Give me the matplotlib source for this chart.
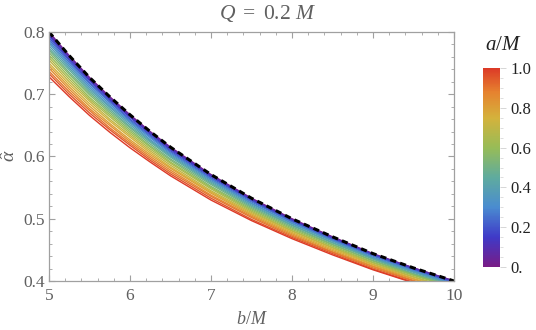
import matplotlib
matplotlib.use('Agg')
import matplotlib.pyplot as plt
from matplotlib.colors import LinearSegmentedColormap, Normalize
from matplotlib.cm import ScalarMappable
from matplotlib.ticker import MultipleLocator, FuncFormatter

# impact parameter b/M
b_vals = [5.0, 5.25, 5.5, 5.75, 6.0, 6.25, 6.5, 7.0, 7.5, 8.0, 8.5, 9.0, 9.5, 10.0]

# spin a/M of each curve
spin_vals = [0.00, 0.05, 0.10, 0.15, 0.20, 0.25, 0.30, 0.35, 0.40, 0.45, 0.50,
             0.55, 0.60, 0.65, 0.70, 0.75, 0.80, 0.85, 0.90, 0.95, 1.00]

# deflection angle, one row per spin value
alpha_rows = [
    [0.800, 0.762, 0.727, 0.696, 0.667, 0.640, 0.615, 0.571, 0.533, 0.500, 0.471, 0.444, 0.421, 0.400],
    [0.799, 0.761, 0.726, 0.695, 0.666, 0.639, 0.614, 0.570, 0.532, 0.499, 0.470, 0.443, 0.421, 0.400],
    [0.796, 0.759, 0.724, 0.693, 0.664, 0.638, 0.613, 0.569, 0.531, 0.498, 0.469, 0.443, 0.420, 0.399],
    [0.794, 0.756, 0.722, 0.691, 0.663, 0.636, 0.611, 0.568, 0.530, 0.497, 0.469, 0.442, 0.419, 0.398],
    [0.791, 0.754, 0.719, 0.689, 0.660, 0.634, 0.609, 0.566, 0.529, 0.496, 0.467, 0.441, 0.418, 0.397],
    [0.788, 0.751, 0.717, 0.687, 0.658, 0.632, 0.607, 0.564, 0.527, 0.495, 0.466, 0.440, 0.417, 0.396],
    [0.785, 0.748, 0.714, 0.684, 0.656, 0.630, 0.605, 0.563, 0.525, 0.493, 0.465, 0.438, 0.416, 0.395],
    [0.782, 0.745, 0.711, 0.681, 0.654, 0.627, 0.603, 0.561, 0.524, 0.492, 0.464, 0.437, 0.415, 0.394],
    [0.778, 0.742, 0.708, 0.679, 0.651, 0.625, 0.601, 0.559, 0.522, 0.490, 0.462, 0.436, 0.414, 0.393],
    [0.774, 0.739, 0.705, 0.676, 0.648, 0.623, 0.599, 0.557, 0.520, 0.489, 0.461, 0.435, 0.412, 0.392],
    [0.771, 0.735, 0.702, 0.673, 0.646, 0.620, 0.596, 0.555, 0.518, 0.487, 0.459, 0.433, 0.411, 0.391],
    [0.767, 0.732, 0.699, 0.670, 0.643, 0.617, 0.594, 0.552, 0.516, 0.485, 0.458, 0.432, 0.410, 0.390],
    [0.763, 0.728, 0.695, 0.667, 0.640, 0.615, 0.591, 0.550, 0.514, 0.483, 0.456, 0.430, 0.409, 0.389],
    [0.759, 0.724, 0.692, 0.664, 0.637, 0.612, 0.589, 0.548, 0.512, 0.481, 0.454, 0.429, 0.407, 0.387],
    [0.755, 0.720, 0.689, 0.660, 0.634, 0.609, 0.586, 0.545, 0.510, 0.480, 0.453, 0.427, 0.406, 0.386],
    [0.750, 0.716, 0.685, 0.657, 0.631, 0.606, 0.583, 0.543, 0.508, 0.478, 0.451, 0.426, 0.404, 0.385],
    [0.746, 0.712, 0.681, 0.653, 0.627, 0.603, 0.581, 0.541, 0.506, 0.476, 0.449, 0.424, 0.403, 0.383],
    [0.742, 0.708, 0.677, 0.650, 0.624, 0.600, 0.578, 0.538, 0.504, 0.474, 0.447, 0.423, 0.401, 0.382],
    [0.737, 0.704, 0.674, 0.646, 0.621, 0.597, 0.575, 0.536, 0.502, 0.472, 0.446, 0.421, 0.400, 0.381],
    [0.733, 0.700, 0.670, 0.643, 0.618, 0.594, 0.572, 0.533, 0.499, 0.470, 0.444, 0.419, 0.398, 0.379],
    [0.728, 0.696, 0.666, 0.639, 0.614, 0.591, 0.569, 0.530, 0.497, 0.468, 0.442, 0.418, 0.397, 0.378],
]

# dashed reference curve
ref_alpha = [0.800, 0.762, 0.727, 0.696, 0.667, 0.640, 0.615, 0.571, 0.533, 0.500, 0.471, 0.444, 0.421, 0.400]

cb_ticks = [0.0, 0.2, 0.4, 0.6, 0.8, 1.0]

plt.rcParams['font.family'] = 'Liberation Serif'
plt.rcParams['mathtext.fontset'] = 'custom'
plt.rcParams['mathtext.rm'] = 'Liberation Serif'
plt.rcParams['mathtext.it'] = 'Liberation Serif:italic'

rainbow = LinearSegmentedColormap.from_list('mma_rainbow', [
    (0.00, '#781C86'), (0.15, '#3F3AC8'), (0.30, '#4A8CD0'),
    (0.45, '#5FAB9E'), (0.60, '#97BC57'), (0.75, '#D4B23C'),
    (0.88, '#E6822F'), (1.00, '#DC3A27')])
norm = Normalize(0, 1)

grey_txt = '#606060'
grey_ax = '#a0a0a0'

fig = plt.figure(figsize=(5.36, 3.30), dpi=100)
ax = fig.add_axes([49 / 536, 1 - 281 / 330, 405 / 536, 249 / 330])

for a, row in zip(spin_vals, alpha_rows):
    ax.plot(b_vals, row, color=rainbow(norm(a)), lw=1.0)
ax.plot(b_vals, ref_alpha, color='black', lw=2.2, dashes=(2.0, 1.4))

ax.set_xlim(5, 10)
ax.set_ylim(0.4, 0.8)
ax.xaxis.set_major_locator(MultipleLocator(1))
ax.xaxis.set_minor_locator(MultipleLocator(0.2))
ax.yaxis.set_major_locator(MultipleLocator(0.1))
ax.yaxis.set_minor_locator(MultipleLocator(0.02))
ax.yaxis.set_major_formatter(FuncFormatter(lambda v, _: f'{v:.1f}'))
ax.tick_params(which='both', direction='in', top=True, right=True,
               color=grey_ax, labelcolor=grey_txt, labelsize=12.5)
ax.tick_params(which='major', length=4, width=0.8)
ax.tick_params(which='minor', length=2.2, width=0.6)
ax.tick_params(axis='x', pad=5)
ax.tick_params(axis='y', pad=3)
for s in ax.spines.values():
    s.set_color(grey_ax)
    s.set_linewidth(0.9)

ax.set_xlabel(r'$b/M$', color=grey_txt, fontsize=13, labelpad=5)
fig.text(10 / 536, 1 - 156 / 330, r'$\hat{\alpha}$', rotation=90, ha='center', va='center',
         color=grey_txt, fontsize=14)
fig.text(0.5, 1 - 14 / 330, r'$Q\ =\ 0.2\ M$', ha='center', va='center',
         color=grey_txt, fontsize=15.5)

# colour bar
cax = fig.add_axes([483 / 536, 1 - 267 / 330, 17 / 536, 199 / 330])
cb = fig.colorbar(ScalarMappable(norm=norm, cmap=rainbow), cax=cax, ticks=cb_ticks)
cb.outline.set_visible(False)
cb.ax.yaxis.set_minor_locator(MultipleLocator(0.05))
cb.ax.yaxis.set_major_formatter(FuncFormatter(lambda v, _: '0.' if v == 0 else f'{v:.1f}'))
cb.ax.tick_params(which='both', color='#d0d0d0', labelcolor='#222222', labelsize=12)
cb.ax.tick_params(which='major', length=4, width=0.6)
cb.ax.tick_params(which='minor', length=2, width=0.5)
fig.text(503 / 536, 1 - 45 / 330, r'$a/M$', ha='center', va='center',
         color='#222222', fontsize=15)

fig.savefig('out.png', dpi=100)
